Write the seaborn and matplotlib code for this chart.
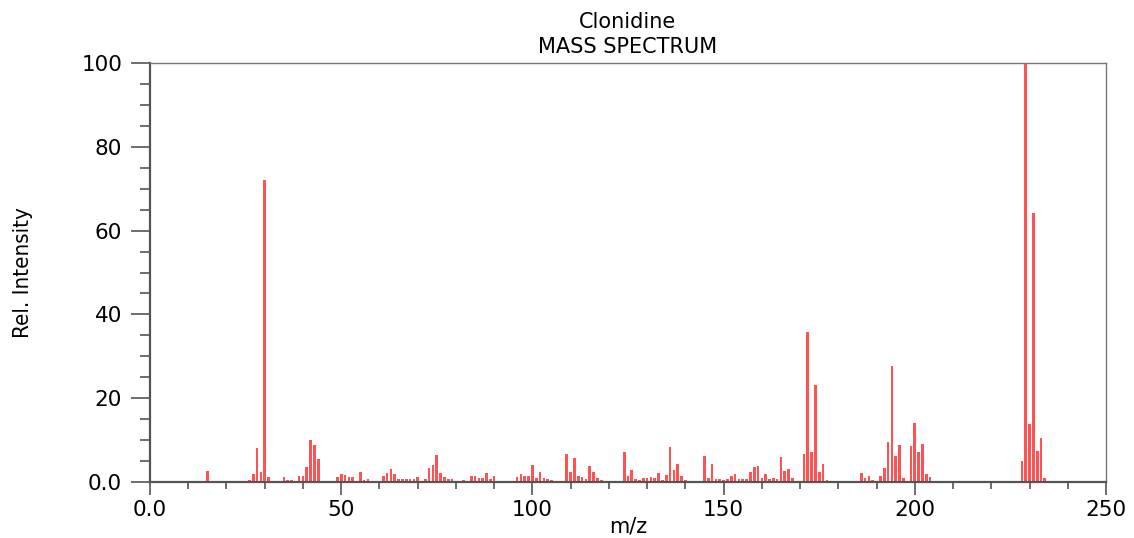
import numpy as np
import pandas as pd
import matplotlib
matplotlib.use("Agg")
import matplotlib.pyplot as plt
from matplotlib.ticker import FixedLocator, FixedFormatter, MultipleLocator
import seaborn as sns

# peak list (m/z, relative intensity)
mz = [14, 15, 26, 27, 28, 29, 30, 31, 32, 35, 36, 37, 38, 39, 40, 41, 42, 43, 44,
      47, 49, 50, 51, 52, 53, 54, 55, 56, 57, 59, 61, 62, 63, 64, 65, 66, 67, 68,
      69, 70, 71, 72, 73, 74, 75, 76, 77, 78, 79, 80, 82, 83, 84, 85, 86, 87, 88,
      89, 90, 91, 92, 96, 97, 98, 99, 100, 101, 102, 103, 104, 105, 107, 108, 109,
      110, 111, 112, 113, 114, 115, 116, 117, 118, 119, 120, 121, 122, 124, 125,
      126, 127, 128, 129, 130, 131, 132, 133, 134, 135, 136, 137, 138, 139, 140,
      141, 145, 146, 147, 148, 149, 150, 151, 152, 153, 154, 155, 156, 157, 158,
      159, 160, 161, 162, 163, 164, 165, 166, 167, 168, 169, 171, 172, 173, 174,
      175, 176, 177, 178, 185, 186, 187, 188, 189, 190, 191, 192, 193, 194, 195,
      196, 197, 199, 200, 201, 202, 203, 204, 205, 227, 228, 229, 230, 231, 232,
      233, 234]
intensity = [0.3, 2.6, 0.5, 1.8, 8.2, 2.5, 72.0, 1.2, 0.3, 1.2, 0.5, 0.4, 0.3, 1.5,
             1.5, 3.5, 10.0, 8.8, 5.6, 0.3, 1.3, 2.0, 1.6, 1.1, 1.1, 0.3, 2.5, 0.4,
             0.8, 0.2, 1.5, 2.1, 3.0, 1.8, 0.6, 0.6, 0.7, 0.7, 0.7, 1.2, 0.3, 0.6,
             3.3, 4.1, 6.4, 2.1, 1.1, 0.7, 0.6, 0.3, 0.5, 0.3, 1.5, 1.4, 0.9, 0.9,
             2.2, 0.7, 1.4, 0.2, 0.2, 1.1, 1.8, 1.5, 1.4, 4.1, 1.0, 2.3, 1.0, 0.7,
             0.5, 0.2, 0.2, 6.8, 2.5, 5.7, 1.4, 1.3, 0.6, 3.8, 2.5, 1.0, 0.4, 0.2,
             0.2, 0.2, 0.2, 7.2, 1.5, 2.8, 0.7, 0.5, 1.0, 0.9, 1.2, 1.0, 2.1, 0.4,
             1.7, 8.4, 2.8, 4.2, 1.4, 0.5, 0.3, 6.2, 1.0, 4.3, 0.7, 0.7, 0.5, 0.7,
             1.4, 2.0, 0.8, 0.8, 0.6, 2.3, 3.6, 3.8, 1.0, 2.0, 0.6, 1.0, 0.8, 5.9,
             2.6, 3.2, 1.0, 0.3, 6.6, 35.9, 7.1, 23.2, 2.4, 4.3, 0.4, 0.2, 0.2, 2.2,
             0.9, 1.4, 0.4, 0.3, 1.5, 3.3, 9.5, 27.8, 6.2, 8.8, 0.9, 8.6, 14.2, 7.2,
             9.1, 2.0, 1.3, 0.2, 0.2, 4.9, 100.0, 13.8, 64.2, 7.4, 10.4, 1.0]

x_ticks = [0, 50, 100, 150, 200, 250]
x_labels = ["0.0", "50", "100", "150", "200", "250"]
y_ticks = [0, 20, 40, 60, 80, 100]
y_labels = ["0.0", "20", "40", "60", "80", "100"]

df = pd.DataFrame({"mz": mz, "intensity": intensity})

sns.set_theme(style="white")
plt.rcParams["font.family"] = ["DejaVu Sans"]
plt.rcParams["text.color"] = "black"
plt.rcParams["axes.labelcolor"] = "black"

fig = plt.figure(figsize=(11.34, 5.38), dpi=100)
ax = fig.add_axes([150 / 1134, 1 - 482 / 538, 956 / 1134, 419 / 538])

sns.barplot(data=df, x="mz", y="intensity", native_scale=True, width=0.7,
            color="#ff5252", saturation=1, errorbar=None, linewidth=0, ax=ax)

ax.set_xlim(0, 250)
ax.set_ylim(0, 100)

ax.xaxis.set_major_locator(FixedLocator(x_ticks))
ax.xaxis.set_major_formatter(FixedFormatter(x_labels))
ax.xaxis.set_minor_locator(MultipleLocator(10))
ax.yaxis.set_major_locator(FixedLocator(y_ticks))
ax.yaxis.set_major_formatter(FixedFormatter(y_labels))
ax.yaxis.set_minor_locator(MultipleLocator(5))

ax.tick_params(axis="both", which="both", direction="out", colors="#555555",
               labelcolor="black", labelsize=15.5, width=1.2)
ax.tick_params(axis="x", which="major", length=9, pad=4,
               bottom=True, top=False)
ax.tick_params(axis="x", which="minor", length=5, bottom=True, top=False)
ax.tick_params(axis="y", which="major", length=14, pad=6,
               left=True, right=False)
ax.tick_params(axis="y", which="minor", length=7, left=True, right=False)

for side in ["left", "bottom"]:
    ax.spines[side].set_color("#555555")
    ax.spines[side].set_linewidth(1.6)
for side in ["top", "right"]:
    ax.spines[side].set_color("#777777")
    ax.spines[side].set_linewidth(1.0)

ax.set_title("Clonidine\nMASS SPECTRUM", fontsize=15, pad=7, linespacing=1.3,
             color="black")
ax.set_xlabel("m/z", fontsize=15)
ax.xaxis.set_label_coords(0.5, -0.082)
ax.set_ylabel("Rel. Intensity", fontsize=16, fontstretch="condensed",
              family=["DejaVu Sans"])
ax.yaxis.set_label_coords(-0.122, 0.5)

fig.savefig("out.png", dpi=100, facecolor="white")
